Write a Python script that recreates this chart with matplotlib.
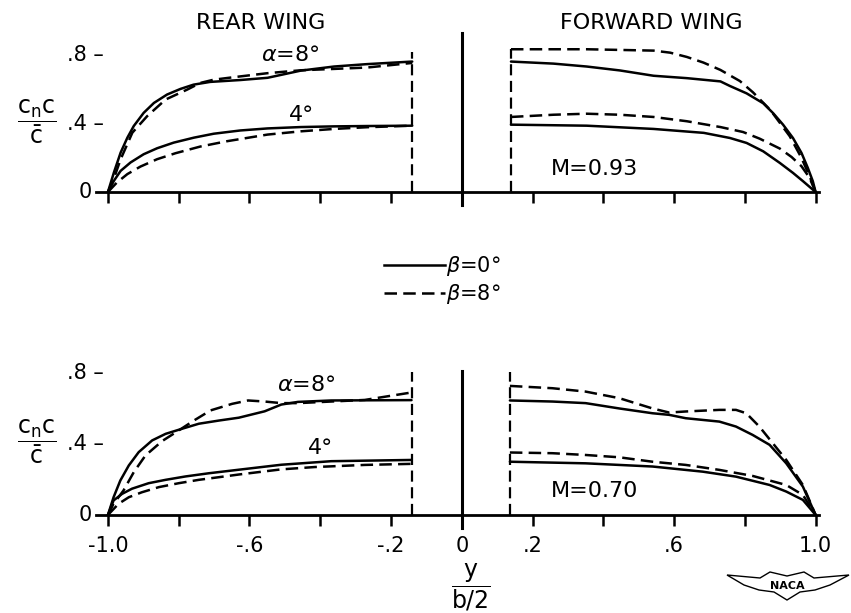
import matplotlib
matplotlib.use("Agg")
import matplotlib.pyplot as plt
from matplotlib.lines import Line2D
from matplotlib.patches import Polygon

plt.rcParams['font.family'] = ['DejaVu Sans']
plt.rcParams['mathtext.fontset'] = 'dejavusans'

# ---- data (y/(b/2), c_n c / c-bar) ----

# M = 0.93, rear wing
m93_rear_a8_b0_x = [-1.0, -0.983, -0.964, -0.945, -0.927, -0.899, -0.870, -0.833, -0.795, -0.758, -0.711, -0.626, -0.549, -0.455, -0.361, -0.268, -0.14]
m93_rear_a8_b0_y = [0.0, 0.115, 0.231, 0.318, 0.386, 0.463, 0.521, 0.570, 0.603, 0.628, 0.644, 0.655, 0.668, 0.71, 0.734, 0.748, 0.763]
m93_rear_a8_b8_x = [-1.0, -0.983, -0.964, -0.931, -0.889, -0.837, -0.776, -0.739, -0.701, -0.643, -0.549, -0.455, -0.361, -0.268, -0.14]
m93_rear_a8_b8_y = [0.0, 0.08, 0.192, 0.347, 0.444, 0.541, 0.599, 0.638, 0.657, 0.672, 0.695, 0.712, 0.72, 0.728, 0.755]
m93_rear_a4_b0_x = [-1.0, -0.983, -0.964, -0.936, -0.899, -0.861, -0.814, -0.757, -0.701, -0.626, -0.549, -0.455, -0.361, -0.268, -0.14]
m93_rear_a4_b0_y = [0.0, 0.066, 0.124, 0.173, 0.221, 0.256, 0.289, 0.318, 0.341, 0.36, 0.372, 0.38, 0.384, 0.386, 0.388]
m93_rear_a4_b8_x = [-1.0, -0.975, -0.945, -0.908, -0.861, -0.809, -0.739, -0.664, -0.549, -0.455, -0.361, -0.268, -0.14]
m93_rear_a4_b8_y = [0.0, 0.055, 0.105, 0.149, 0.192, 0.227, 0.266, 0.297, 0.336, 0.355, 0.369, 0.379, 0.388]

# M = 0.93, forward wing
m93_fwd_a8_b0_x = [0.139, 0.259, 0.353, 0.447, 0.542, 0.636, 0.731, 0.758, 0.805, 0.852, 0.88, 0.908, 0.936, 0.96, 0.978, 0.992, 1.0]
m93_fwd_a8_b0_y = [0.763, 0.751, 0.734, 0.711, 0.68, 0.666, 0.647, 0.62, 0.577, 0.519, 0.461, 0.394, 0.316, 0.229, 0.141, 0.064, 0.0]
m93_fwd_a8_b8_x = [0.139, 0.353, 0.542, 0.589, 0.636, 0.683, 0.731, 0.786, 0.823, 0.872, 0.927, 0.96, 0.986, 1.0]
m93_fwd_a8_b8_y = [0.835, 0.835, 0.827, 0.815, 0.79, 0.757, 0.714, 0.649, 0.583, 0.48, 0.326, 0.20, 0.077, 0.0]
m93_fwd_a4_b0_x = [0.139, 0.353, 0.542, 0.684, 0.758, 0.805, 0.852, 0.899, 0.936, 0.964, 1.0]
m93_fwd_a4_b0_y = [0.394, 0.388, 0.369, 0.346, 0.316, 0.287, 0.238, 0.170, 0.112, 0.064, 0.0]
m93_fwd_a4_b8_x = [0.139, 0.259, 0.353, 0.447, 0.542, 0.636, 0.731, 0.795, 0.842, 0.899, 0.932, 0.96, 0.983, 1.0]
m93_fwd_a4_b8_y = [0.439, 0.452, 0.458, 0.452, 0.439, 0.414, 0.38, 0.351, 0.312, 0.254, 0.205, 0.151, 0.083, 0.0]

# M = 0.70, rear wing
m70_rear_a8_b0_x = [-1.0, -0.984, -0.965, -0.941, -0.913, -0.875, -0.837, -0.790, -0.743, -0.686, -0.630, -0.557, -0.51, -0.463, -0.369, -0.142]
m70_rear_a8_b0_y = [0.0, 0.10, 0.194, 0.279, 0.354, 0.42, 0.457, 0.486, 0.514, 0.532, 0.548, 0.584, 0.622, 0.637, 0.645, 0.647]
m70_rear_a8_b8_x = [-1.0, -0.985, -0.956, -0.927, -0.894, -0.847, -0.80, -0.757, -0.71, -0.649, -0.604, -0.557, -0.51, -0.463, -0.369, -0.274, -0.142]
m70_rear_a8_b8_y = [0.0, 0.06, 0.138, 0.241, 0.335, 0.416, 0.476, 0.532, 0.589, 0.626, 0.645, 0.639, 0.63, 0.63, 0.639, 0.648, 0.69]
m70_rear_a4_b0_x = [-1.0, -0.984, -0.96, -0.932, -0.885, -0.837, -0.781, -0.715, -0.63, -0.51, -0.369, -0.142]
m70_rear_a4_b0_y = [0.0, 0.082, 0.119, 0.148, 0.179, 0.198, 0.217, 0.235, 0.255, 0.283, 0.303, 0.31]
m70_rear_a4_b8_x = [-1.0, -0.97, -0.941, -0.904, -0.856, -0.80, -0.743, -0.686, -0.63, -0.51, -0.416, -0.274, -0.142]
m70_rear_a4_b8_y = [0.0, 0.063, 0.10, 0.128, 0.157, 0.179, 0.198, 0.213, 0.228, 0.257, 0.27, 0.282, 0.288]

# M = 0.70, forward wing
m70_fwd_a8_b0_x = [0.136, 0.256, 0.35, 0.445, 0.539, 0.586, 0.633, 0.728, 0.775, 0.822, 0.87, 0.917, 0.964, 1.0]
m70_fwd_a8_b0_y = [0.645, 0.639, 0.63, 0.60, 0.573, 0.564, 0.545, 0.526, 0.498, 0.451, 0.395, 0.291, 0.16, 0.0]
m70_fwd_a8_b8_x = [0.136, 0.256, 0.35, 0.445, 0.539, 0.586, 0.633, 0.728, 0.775, 0.804, 0.841, 0.879, 0.917, 0.964, 1.0]
m70_fwd_a8_b8_y = [0.727, 0.714, 0.695, 0.658, 0.60, 0.577, 0.583, 0.592, 0.592, 0.573, 0.498, 0.404, 0.31, 0.169, 0.0]
m70_fwd_a4_b0_x = [0.136, 0.35, 0.539, 0.681, 0.775, 0.87, 0.917, 0.964, 1.0]
m70_fwd_a4_b0_y = [0.30, 0.291, 0.273, 0.244, 0.216, 0.169, 0.132, 0.085, 0.0]
m70_fwd_a4_b8_x = [0.136, 0.256, 0.35, 0.445, 0.539, 0.633, 0.728, 0.822, 0.917, 0.964, 1.0]
m70_fwd_a4_b8_y = [0.352, 0.348, 0.338, 0.325, 0.30, 0.282, 0.254, 0.22, 0.169, 0.113, 0.0]

# fuselage side stations (vertical lines) and their top values
m93_side_x = [-0.14, 0.139]
m93_side_top = [0.82, 0.835]
m70_side_x = [-0.142, 0.136]
m70_side_top = [0.805, 0.805]

x_ticks_major = [-1.0, -0.6, -0.2, 0.0, 0.2, 0.6, 1.0]
x_tick_labels = ['-1.0', '-.6', '-.2', '0', '.2', '.6', '1.0']
x_ticks_minor = [-0.8, -0.4, 0.4, 0.8]
y_ticks = [0.0, 0.4, 0.8]
y_tick_labels = ['0', '.4 \u2013', '.8 \u2013']

DASH = (0, (5, 2.5))
LW = 1.8

fig = plt.figure(figsize=(8.51, 6.13), dpi=100)
ax_top = fig.add_axes([0, 0.6248, 1, 0.3752])
ax_bot = fig.add_axes([0, 0.0, 1, 0.4617])
ax_top.set_ylim(-0.222, 1.123)
ax_bot.set_ylim(-0.552, 1.042)

panels = [
    (ax_top, 'M=0.93',
     [(m93_rear_a8_b0_x, m93_rear_a8_b0_y, '-'), (m93_rear_a8_b8_x, m93_rear_a8_b8_y, DASH),
      (m93_rear_a4_b0_x, m93_rear_a4_b0_y, '-'), (m93_rear_a4_b8_x, m93_rear_a4_b8_y, DASH),
      (m93_fwd_a8_b0_x, m93_fwd_a8_b0_y, '-'), (m93_fwd_a8_b8_x, m93_fwd_a8_b8_y, DASH),
      (m93_fwd_a4_b0_x, m93_fwd_a4_b0_y, '-'), (m93_fwd_a4_b8_x, m93_fwd_a4_b8_y, DASH)],
     m93_side_x, m93_side_top, 0.93),
    (ax_bot, 'M=0.70',
     [(m70_rear_a8_b0_x, m70_rear_a8_b0_y, '-'), (m70_rear_a8_b8_x, m70_rear_a8_b8_y, DASH),
      (m70_rear_a4_b0_x, m70_rear_a4_b0_y, '-'), (m70_rear_a4_b8_x, m70_rear_a4_b8_y, DASH),
      (m70_fwd_a8_b0_x, m70_fwd_a8_b0_y, '-'), (m70_fwd_a8_b8_x, m70_fwd_a8_b8_y, DASH),
      (m70_fwd_a4_b0_x, m70_fwd_a4_b0_y, '-'), (m70_fwd_a4_b8_x, m70_fwd_a4_b8_y, DASH)],
     m70_side_x, m70_side_top, 0.81),
]

for ax, mach, curves, side_x, side_top, centre_top in panels:
    ax.set_xlim(-1.305, 1.10)
    ax.patch.set_alpha(0)
    for s in ['left', 'right', 'top']:
        ax.spines[s].set_visible(False)
    ax.spines['bottom'].set_position(('data', 0))
    ax.spines['bottom'].set_bounds(-1.035, 1.01)
    ax.spines['bottom'].set_linewidth(2)
    ax.set_yticks([])
    ax.set_xticks(x_ticks_major)
    ax.set_xticks(x_ticks_minor, minor=True)
    ax.tick_params(axis='x', which='both', direction='out', length=8, width=1.8, pad=7, labelsize=15)

    for cx, cy, ls in curves:
        ax.plot(cx, cy, color='black', lw=LW, linestyle=ls, solid_capstyle='round', solid_joinstyle='round')

    # fuselage side lines and centre line
    for sx, st in zip(side_x, side_top):
        ax.plot([sx, sx], [0, st], color='black', lw=1.6, linestyle=DASH)
    ax.plot([0, 0], [-0.075, centre_top], color='black', lw=2.2)

    for yv, lab in zip(y_ticks, y_tick_labels):
        ax.text(-1.045 if yv == 0 else -1.012, yv, lab, ha='right', va='center', fontsize=15)
    ax.text(-1.2, 0.41, r'$\dfrac{\mathrm{c_n c}}{\bar{\mathrm{c}}}$', ha='center', va='center', fontsize=17)
    ax.text(0.374, 0.135, mach, ha='center', va='center', fontsize=16)

ax_top.tick_params(axis='x', labelbottom=False)
ax_bot.set_xticklabels(x_tick_labels)

ax_top.text(-0.568, 0.99, 'REAR WING', ha='center', va='center', fontsize=16)
ax_top.text(0.537, 0.99, 'FORWARD WING', ha='center', va='center', fontsize=16)
ax_top.text(-0.486, 0.80, r'$\alpha$=8°', ha='center', va='center', fontsize=16)
ax_top.text(-0.452, 0.45, '4°', ha='center', va='center', fontsize=16)
ax_bot.text(-0.44, 0.73, r'$\alpha$=8°', ha='center', va='center', fontsize=16)
ax_bot.text(-0.40, 0.38, '4°', ha='center', va='center', fontsize=16)
ax_bot.text(0.026, -0.41, r'$\dfrac{\mathrm{y}}{\mathrm{b/2}}$', ha='center', va='center', fontsize=17)

# legend between panels
handles = [Line2D([], [], color='black', lw=LW),
           Line2D([], [], color='black', lw=LW, linestyle=DASH)]
fig.legend(handles, [r'$\beta$=0°', r'$\beta$=8°'], loc='center', bbox_to_anchor=(0.52, 0.543),
           frameon=False, fontsize=15, handlelength=2.9, handletextpad=0.05, labelspacing=0.2)

# NACA wing emblem (figure pixels, y measured from top)
wing_px = [(727, 575), (760, 578), (770, 572), (787, 576), (804, 572), (814, 578), (849, 575),
           (830, 585), (815, 590), (800, 592), (787, 600), (774, 592), (759, 590), (744, 585)]
wing = Polygon([(px / 851, 1 - py / 613) for px, py in wing_px], closed=True, fill=False,
               edgecolor='black', lw=1.0, transform=fig.transFigure)
fig.add_artist(wing)
fig.text(787 / 851, 1 - 586 / 613, 'NACA', ha='center', va='center', fontsize=8, fontweight='bold')

fig.savefig('out.png', dpi=100)
